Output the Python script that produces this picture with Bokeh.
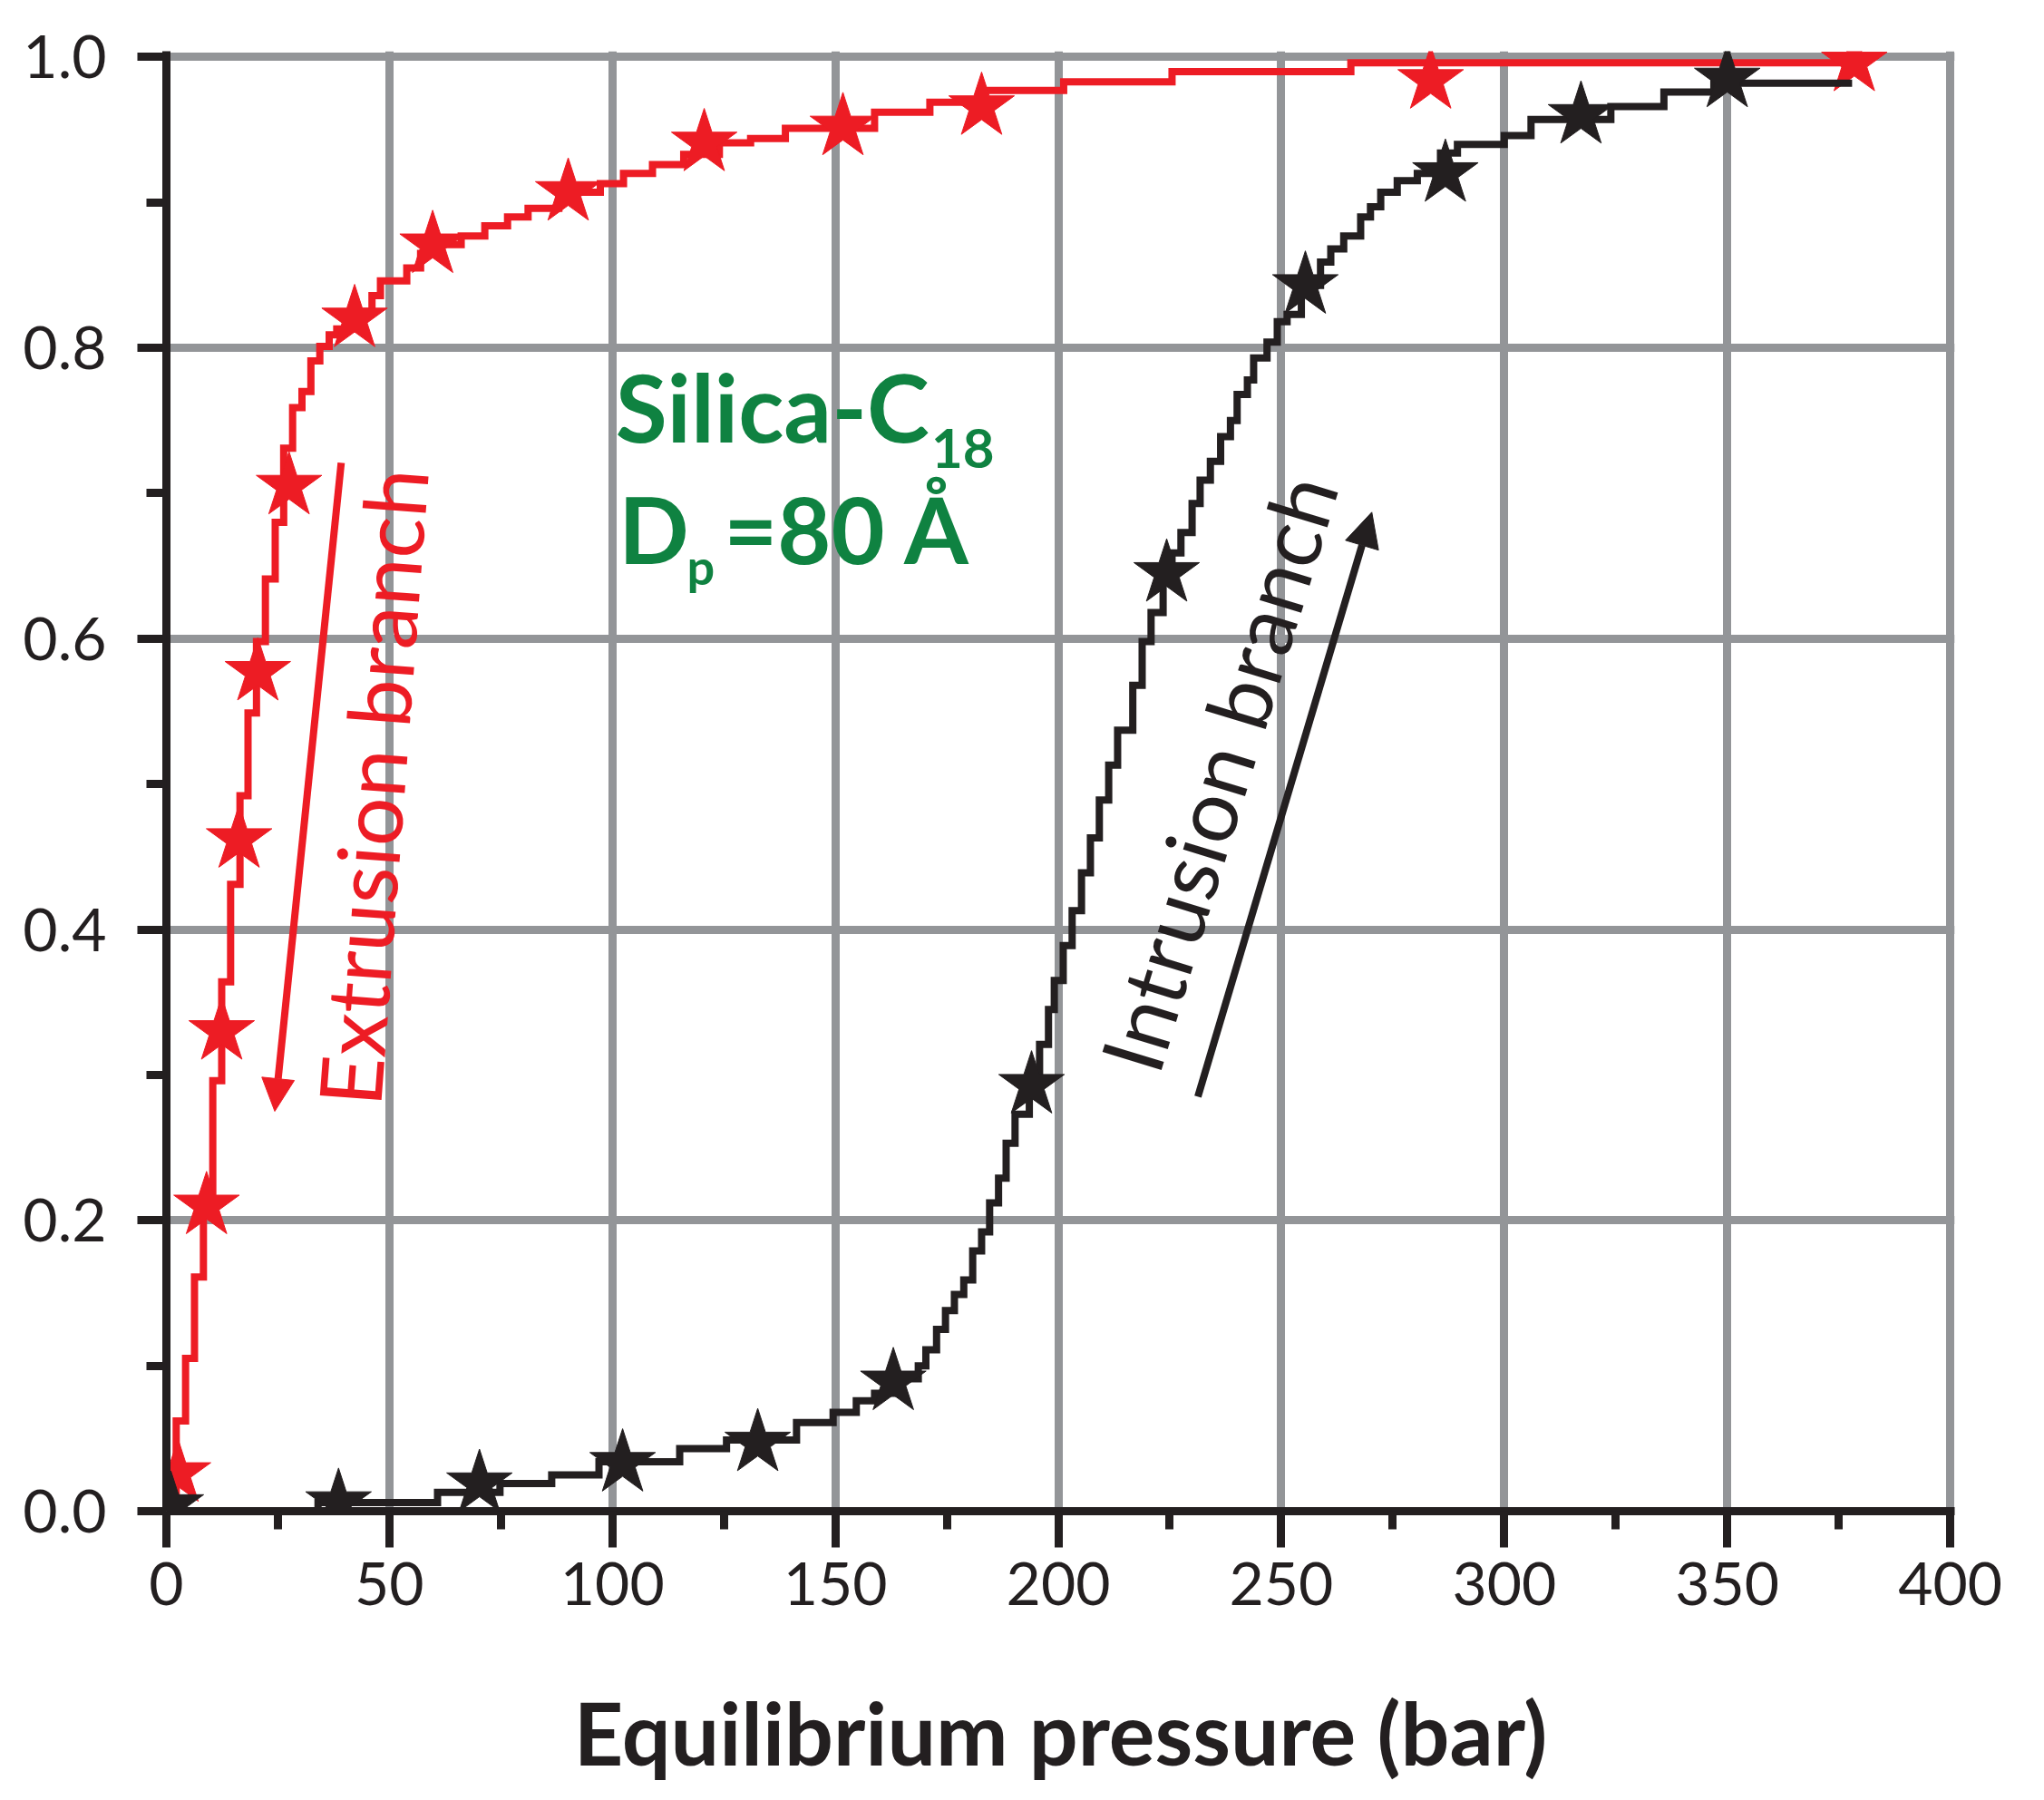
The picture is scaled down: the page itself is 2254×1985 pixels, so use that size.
import math
from bokeh.plotting import figure
from bokeh.models import Arrow, NormalHead, Range1d, FixedTicker, NumeralTickFormatter, Label
from bokeh.core.properties import value
from bokeh.embed import file_html
from bokeh.resources import INLINE

# ---------------- data ----------------
# Extrusion branch (red): step levels, "after" mode
ext_p = [0.5, 2.2, 4.3, 6.3, 8.3, 10.4, 12.4, 14.4, 16.5, 18.3, 20.2, 22.2, 24.4, 26.3,
         28.3, 30.4, 32.4, 34.4, 36.5, 38.2, 42.0, 46.1, 48.0, 53.9, 57.0, 61.0, 66.1,
         71.4, 76.5, 81.1, 88.0, 92.0, 97.3, 102.5, 109.0, 116.0, 124.0, 131.0, 138.8,
         158.8, 171.2, 183.5, 201.2, 225.5, 265.6, 379.0]
ext_v = [0.011, 0.062, 0.105, 0.161, 0.204, 0.296, 0.364, 0.431, 0.492, 0.549, 0.598,
         0.641, 0.680, 0.731, 0.759, 0.770, 0.791, 0.801, 0.809, 0.813, 0.825, 0.836,
         0.846, 0.855, 0.865, 0.871, 0.877, 0.884, 0.890, 0.896, 0.903, 0.907, 0.913,
         0.920, 0.926, 0.933, 0.941, 0.944, 0.951, 0.962, 0.969, 0.977, 0.983, 0.990,
         0.996, 0.996]
ext_star_p = [2.6, 9.0, 12.4, 16.3, 20.5, 27.5, 42.2, 59.7, 90.1, 120.6, 151.7, 182.8, 283.5, 378.5]
ext_star_v = [0.026, 0.210, 0.330, 0.462, 0.577, 0.705, 0.820, 0.871, 0.907, 0.941, 0.952,
              0.966, 0.984, 0.996]

# Intrusion branch (black)
int_p = [0.0, 34.0, 60.8, 74.8, 86.4, 97.0, 115.1, 125.6, 141.3, 149.5, 154.7, 158.8, 165.0,
         168.6, 170.3, 172.7, 174.7, 176.7, 178.8, 180.8, 182.8, 184.6, 186.6, 188.3, 190.3,
         193.5, 195.8, 197.8, 199.1, 201.1, 203.1, 205.2, 207.2, 209.2, 211.3, 213.3, 216.7,
         218.8, 220.8, 223.5, 225.5, 227.5, 230.0, 231.8, 234.1, 236.4, 238.6, 240.1, 242.4,
         243.8, 246.8, 249.1, 251.3, 254.5, 258.8, 261.1, 264.0, 267.8, 270.0, 272.3, 276.0,
         280.5, 285.7, 289.5, 300.0, 306.0, 323.9, 335.8, 347.0, 378.0]
int_v = [0.000, 0.006, 0.013, 0.019, 0.025, 0.034, 0.043, 0.049, 0.061, 0.068, 0.076, 0.081,
         0.091, 0.100, 0.111, 0.125, 0.138, 0.149, 0.159, 0.179, 0.192, 0.212, 0.229, 0.253,
         0.273, 0.291, 0.321, 0.345, 0.365, 0.389, 0.413, 0.439, 0.463, 0.489, 0.513, 0.537,
         0.568, 0.598, 0.618, 0.644, 0.659, 0.673, 0.693, 0.709, 0.722, 0.739, 0.750, 0.768,
         0.778, 0.793, 0.804, 0.818, 0.823, 0.843, 0.859, 0.868, 0.877, 0.890, 0.897, 0.907,
         0.915, 0.920, 0.934, 0.940, 0.946, 0.957, 0.966, 0.976, 0.982, 0.982]
int_star_p = [1.0, 38.6, 70.2, 102.3, 132.6, 163.0, 194.0, 224.3, 255.4, 286.8, 317.2, 350.0]
int_star_v = [0.004, 0.006, 0.019, 0.033, 0.047, 0.089, 0.293, 0.645, 0.843, 0.920, 0.960, 0.985]

x_ticks = [0, 50, 100, 150, 200, 250, 300, 350, 400]
x_minor = [25, 75, 125, 175, 225, 275, 325, 375]
y_ticks = [0.0, 0.2, 0.4, 0.6, 0.8, 1.0]
y_minor = [0.1, 0.3, 0.5, 0.7, 0.9]
x_title = "Equilibrium pressure (bar)"

# annotation texts and anchors: (text, x, y, size)
green_labels = [
    ("Silica-C", 100.7, 0.760, "104px"),
    ("18", 171.5, 0.731, "60px"),
    ("=80 Å", 125.0, 0.676, "102px"),
    ("p", 116.7, 0.650, "54px"),
    ("D", 101.4, 0.676, "102px"),
]
branch_labels = [
    ("Extrusion branch", 40.6, 0.279, 85.7, "red"),
    ("Intrusion branch", 215.4, 0.305, 73.0, "black"),
]
arrow_red = dict(x0=39.2, y0=0.721, x1=24.3, y1=0.275)
arrow_black = dict(x0=231.3, y0=0.285, x1=270.3, y1=0.687)

# ---------------- style ----------------
RED = "#ED1C24"
BLACK = "#231F20"
GREEN = "#0F8241"
GRID = "#939598"
FONT = "Lato"

p = figure(width=2238, height=1969, output_backend="svg", toolbar_location=None,
           x_range=Range1d(0, 401), y_range=Range1d(0, 1.004),
           min_border_left=183, min_border_right=83, min_border_top=56,
           min_border_bottom=301)
p.outline_line_color = None
p.background_fill_color = "white"
p.border_fill_color = "white"

xt = FixedTicker(ticks=x_ticks, minor_ticks=x_minor)
yt = FixedTicker(ticks=y_ticks, minor_ticks=y_minor)
p.xaxis.ticker = xt
p.yaxis.ticker = yt
p.xgrid.ticker = xt
p.ygrid.ticker = yt
p.yaxis.formatter = NumeralTickFormatter(format="0.0")

for g in (p.xgrid, p.ygrid):
    g.grid_line_color = GRID
    g.grid_line_width = 9
    g.grid_line_alpha = 1.0

for ax in (p.xaxis, p.yaxis):
    ax.axis_line_color = BLACK
    ax.axis_line_width = 9
    ax.major_tick_line_color = BLACK
    ax.major_tick_line_width = 9
    ax.minor_tick_line_color = BLACK
    ax.minor_tick_line_width = 9
    ax.major_tick_in = 0
    ax.minor_tick_in = 0
    ax.major_label_text_font = FONT
    ax.major_label_text_font_size = "66px"
    ax.major_label_text_color = BLACK

p.yaxis.major_tick_out = 32
p.yaxis.minor_tick_out = 22
p.yaxis.major_label_standoff = 34
p.xaxis.major_tick_out = 40
p.xaxis.minor_tick_out = 20
p.xaxis.major_label_standoff = 16

p.xaxis.axis_label = x_title
p.xaxis.axis_label_text_font = FONT
p.xaxis.axis_label_text_font_style = "bold"
p.xaxis.axis_label_text_font_size = "95px"
p.xaxis.axis_label_text_color = BLACK
p.xaxis.axis_label_standoff = 80

# ---------------- curves ----------------
p.step(ext_p, ext_v, mode="after", line_color=RED, line_width=8, line_join="miter")
p.scatter(ext_star_p, ext_star_v, marker="star", size=76, fill_color=RED, line_color=RED,
          line_width=1)
p.step(int_p, int_v, mode="after", line_color=BLACK, line_width=8, line_join="miter")
p.scatter(int_star_p, int_star_v, marker="star", size=76, fill_color=BLACK, line_color=BLACK,
          line_width=1)

# ---------------- annotations ----------------
p.add_layout(Arrow(end=NormalHead(size=36, fill_color=RED, line_color=RED, line_width=1),
                   x_start=arrow_red["x0"], y_start=arrow_red["y0"],
                   x_end=arrow_red["x1"], y_end=arrow_red["y1"],
                   line_color=RED, line_width=8))
p.add_layout(Arrow(end=NormalHead(size=38, fill_color=BLACK, line_color=BLACK, line_width=1),
                   x_start=arrow_black["x0"], y_start=arrow_black["y0"],
                   x_end=arrow_black["x1"], y_end=arrow_black["y1"],
                   line_color=BLACK, line_width=8))

for txt, tx, ty, ang, col in branch_labels:
    p.add_layout(Label(x=tx, y=ty, text=txt, angle=math.radians(ang), text_font=FONT,
                       text_font_size="95px", text_color=RED if col == "red" else BLACK,
                       text_align="left", text_baseline="alphabetic"))

for txt, tx, ty, sz in green_labels:
    p.add_layout(Label(x=tx, y=ty, text=txt, text_font=FONT, text_font_style="bold",
                       text_font_size=sz, text_color=GREEN, text_align="left",
                       text_baseline="alphabetic"))

open("out.html", "w").write(file_html(p, INLINE))
